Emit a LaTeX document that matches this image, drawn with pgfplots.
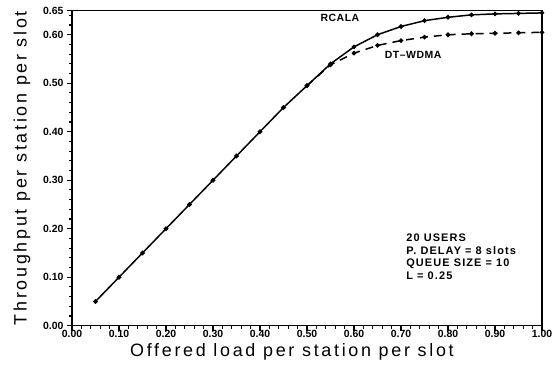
\documentclass[border=0pt]{standalone}
\usepackage{fontspec}
\setmainfont{Liberation Sans}
\usepackage{pgfplots}
\pgfplotsset{compat=1.18}
\begin{document}
\begin{tikzpicture}
\useasboundingbox (-72bp,-40.3bp) rectangle (486bp,325.7bp);
\begin{axis}[
  scale only axis,
  width=470bp, height=315.2bp,
  xmin=0, xmax=1.0, ymin=0, ymax=0.65,
  axis line style={line width=1.5pt},
  xtick={0,0.1,...,1.0},
  ytick={0,0.1,0.2,0.3,0.4,0.5,0.6,0.65},
  minor xtick={0.02,0.04,...,1.0},
  minor ytick={0.02,0.04,...,0.64},
  xticklabel style={/pgf/number format/fixed,/pgf/number format/fixed zerofill,/pgf/number format/precision=2,font=\bfseries\fontsize{10.5}{10.5}\selectfont, yshift=2pt, inner sep=1pt},
  yticklabel style={/pgf/number format/fixed,/pgf/number format/fixed zerofill,/pgf/number format/precision=2,font=\bfseries\fontsize{10.5}{10.5}\selectfont},
  /pgf/number format/assume math mode=true,
  tick align=outside,
  xtick pos=bottom, ytick pos=left,
  major tick length=5pt,
  minor tick length=3pt,
  major tick style={line width=1.3pt,black},
  minor tick style={line width=1.1pt,black},
  xlabel={\addfontfeature{LetterSpace=15}Offered load per station per slot},
  ylabel={\addfontfeature{LetterSpace=15}Throughput per station per slot},
  label style={font=\fontsize{18}{19}\selectfont},
  xlabel style={at={(axis description cs:0.468,-0.098)}, anchor=base},
  ylabel style={yshift=6pt},
  clip=false,
]
\addplot[black, line width=1.5pt, mark=*, mark size=1.5pt] coordinates {
(0.05,0.050) (0.10,0.100) (0.15,0.150) (0.20,0.200) (0.25,0.250)
(0.30,0.300) (0.35,0.350) (0.40,0.400) (0.45,0.450) (0.50,0.495)
(0.55,0.540) (0.60,0.575) (0.65,0.600) (0.70,0.617) (0.75,0.629)
(0.80,0.636) (0.85,0.641) (0.90,0.643) (0.95,0.644) (1.00,0.645)
};
\addplot[black, line width=1.5pt, dashed, dash pattern=on 8pt off 6pt, mark=*, mark size=1.5pt, mark options={solid}] coordinates {
(0.50,0.495) (0.55,0.538) (0.60,0.562) (0.65,0.578) (0.70,0.588)
(0.75,0.595) (0.80,0.600) (0.85,0.602) (0.90,0.603) (0.95,0.604) (1.00,0.605)
};
\node[font=\bfseries\fontsize{10.5}{11}\selectfont\addfontfeature{LetterSpace=5}] at (axis cs:0.57,0.634) {RCALA};
\node[font=\bfseries\fontsize{10.5}{11}\selectfont\addfontfeature{LetterSpace=5}] at (axis cs:0.726,0.558) {DT--WDMA};
\node[anchor=north west, align=left, inner sep=0pt, font=\bfseries\fontsize{11}{12.8}\selectfont\addfontfeature{LetterSpace=10}] at (axis cs:0.711,0.19) {20 USERS\\P. DELAY = 8 slots\\QUEUE SIZE = 10\\L = 0.25};
\end{axis}
\end{tikzpicture}
\end{document}
